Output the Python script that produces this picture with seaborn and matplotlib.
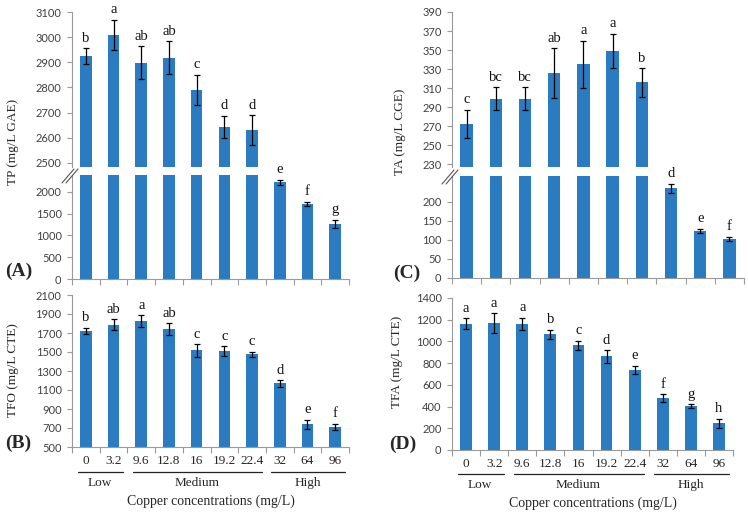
import numpy as np
import pandas as pd
import seaborn as sns
import matplotlib.pyplot as plt
from matplotlib.lines import Line2D
import matplotlib.transforms as mtransforms

sns.set_style("white")
plt.rcParams["font.family"] = ["Liberation Serif", "DejaVu Serif"]

# concentrations and groups
conc = ["0", "3.2", "9.6", "12.8", "16", "19.2", "22.4", "32", "64", "96"]
groups = ["Low", "Medium", "High"]
group_first = [0, 2, 7]
group_last = [1, 6, 9]

# panel A - total phenolics
tp = [2926, 3009, 2899, 2919, 2791, 2643, 2630, 2223, 1724, 1264]
tp_err = [31, 60, 65, 65, 59, 44, 60, 57, 50, 100]
tp_letters = ["b", "a", "ab", "ab", "c", "d", "d", "e", "f", "g"]

# panel B - flavonols
tfo = [1724, 1787, 1822, 1742, 1517, 1510, 1475, 1170, 738, 710]
tfo_err = [30, 59, 64, 61, 65, 49, 28, 35, 47, 33]
tfo_letters = ["b", "ab", "a", "ab", "c", "c", "c", "d", "e", "f"]

# panel C - anthocyanins
ta = [272, 299, 299, 326, 335, 349, 316, 236, 123, 103]
ta_err = [15, 12, 12, 26, 25, 18, 15, 12, 6, 6]
ta_letters = ["c", "bc", "bc", "ab", "a", "a", "b", "d", "e", "f"]

# panel D - flavanols
tfa = [1163, 1172, 1163, 1065, 963, 862, 738, 477, 406, 246]
tfa_err = [50, 90, 55, 43, 42, 58, 37, 35, 15, 43]
tfa_letters = ["a", "a", "a", "b", "c", "d", "e", "f", "g", "h"]

BAR = "#2a7bbf"
AXC = "#9a9a9a"
TICKC = "#404040"
W, H = 748, 513

fig = plt.figure(figsize=(W / 100, H / 100), dpi=100)


def px_axes(l, t, r, b):
    return fig.add_axes([l / W, 1 - b / H, (r - l) / W, (b - t) / H])


def draw_bars(ax, vals, errs, ylim, yticks, bottom=True, cut=None):
    vals = np.asarray(vals, dtype=float)
    errs = np.asarray(errs, dtype=float)
    keep = np.ones(len(vals), bool) if cut is None else vals > cut
    shown = np.where(keep, vals, 0.0)
    df = pd.DataFrame({"conc": conc, "val": shown})
    sns.barplot(data=df, x="conc", y="val", order=conc, color=BAR, saturation=1,
                width=0.42, linewidth=0, ax=ax)
    idx = np.arange(len(conc))
    with_err = keep & (vals <= ylim[1])
    ax.errorbar(idx[with_err], vals[with_err], yerr=errs[with_err], fmt="none",
                ecolor="black", elinewidth=0.9, capsize=2.5, capthick=0.9)
    ax.set_xlim(-0.5, len(conc) - 0.5)
    ax.set_ylim(*ylim)
    ax.set_yticks(yticks)
    ax.set_xlabel("")
    ax.set_ylabel("")
    for s in ["top", "right"]:
        ax.spines[s].set_visible(False)
    ax.spines["left"].set_color(AXC)
    ax.spines["bottom"].set_color(AXC)
    ax.tick_params(axis="y", length=3.5, width=0.8, color=AXC, pad=4, labelsize=8,
                   labelcolor=TICKC, left=True)
    for t in ax.get_yticklabels():
        t.set_fontfamily("Lato")
    if bottom:
        ax.set_xticks(np.arange(-0.5, len(conc), 1), minor=True)
        ax.tick_params(axis="x", which="minor", length=4, width=0.8, color=AXC, bottom=True)
        ax.tick_params(axis="x", which="major", length=0, pad=6, labelsize=9.5)
    else:
        ax.spines["bottom"].set_visible(False)
        ax.tick_params(axis="x", which="both", bottom=False, labelbottom=False)


def add_letters(vals, errs, letters, ax_low, ax_up=None):
    cut = ax_low.get_ylim()[1]
    for i, lab in enumerate(letters):
        top = vals[i] + errs[i]
        ax = ax_up if (ax_up is not None and vals[i] > cut) else ax_low
        ax.annotate(lab, (i, top), xytext=(0, 2.5), textcoords="offset points",
                    ha="center", va="bottom", fontsize=10.5, color="#111111")


def break_marks(xpx, ypx):
    for dx in (0, 4):
        fig.add_artist(Line2D([(xpx - 10 + dx) / W, (xpx + 2 + dx) / W],
                              [1 - (ypx + 8) / H, 1 - (ypx - 6) / H],
                              transform=fig.transFigure, color="#555555", lw=0.8))


def group_axis(ax, yline, ylab, ytitle):
    tr = mtransforms.blended_transform_factory(ax.transData, ax.transAxes)
    for g, a, b in zip(groups, group_first, group_last):
        x0 = max(a - 0.3, -0.45)
        x1 = min(b + 0.35, len(conc) - 0.55)
        ax.plot([x0, x1], [yline, yline], transform=tr, color="#222222", lw=0.9, clip_on=False)
        ax.text((a + b) / 2, ylab, g, transform=tr, ha="center", va="center", fontsize=9.5)
    ax.text(0.5, ytitle, "Copper concentrations (mg/L)", transform=ax.transAxes,
            ha="center", va="center", fontsize=10)


# panel A (broken axis)
axA1 = px_axes(72, 12, 349, 167)
axA2 = px_axes(72, 175, 349, 279)
draw_bars(axA2, tp, tp_err, (0, 2390), np.arange(0, 2001, 500))
draw_bars(axA1, tp, tp_err, (2484, 3100), np.arange(2500, 3101, 100), bottom=False, cut=2390)
axA2.set_xticklabels([])
add_letters(tp, tp_err, tp_letters, axA2, axA1)
break_marks(72, 175)

# panel B
axB = px_axes(72, 295, 349, 447)
draw_bars(axB, tfo, tfo_err, (500, 2100), np.arange(500, 2101, 200))
add_letters(tfo, tfo_err, tfo_letters, axB)
group_axis(axB, -0.165, -0.235, -0.36)

# panel C (broken axis)
axC1 = px_axes(452, 12, 744, 167)
axC2 = px_axes(452, 176, 744, 278)
draw_bars(axC2, ta, ta_err, (0, 268), np.arange(0, 201, 50))
draw_bars(axC1, ta, ta_err, (227, 390), np.arange(230, 391, 20), bottom=False, cut=268)
axC2.set_xticklabels([])
add_letters(ta, ta_err, ta_letters, axC2, axC1)
break_marks(452, 176)

# panel D
axD = px_axes(452, 298, 733, 450)
draw_bars(axD, tfa, tfa_err, (0, 1400), np.arange(0, 1401, 200))
add_letters(tfa, tfa_err, tfa_letters, axD)
group_axis(axD, -0.16, -0.23, -0.35)

# y labels and panel tags
fig.text(13 / W, 1 - 142 / H, "TP (mg/L GAE)", rotation=90, ha="center", va="center", fontsize=9.5)
fig.text(13 / W, 1 - 370 / H, "TFO (mg/L CTE)", rotation=90, ha="center", va="center", fontsize=9.5)
fig.text(400 / W, 1 - 132 / H, "TA (mg/L CGE)", rotation=90, ha="center", va="center", fontsize=9.5)
fig.text(397 / W, 1 - 362 / H, "TFA (mg/L CTE)", rotation=90, ha="center", va="center", fontsize=9.5)

for lab, x, y in [("(A)", 19, 271), ("(B)", 18, 443), ("(C)", 407, 273), ("(D)", 403, 444)]:
    fig.text(x / W, 1 - y / H, lab, ha="center", va="center", fontsize=14, fontweight="bold")

fig.savefig("out.png", dpi=100)
